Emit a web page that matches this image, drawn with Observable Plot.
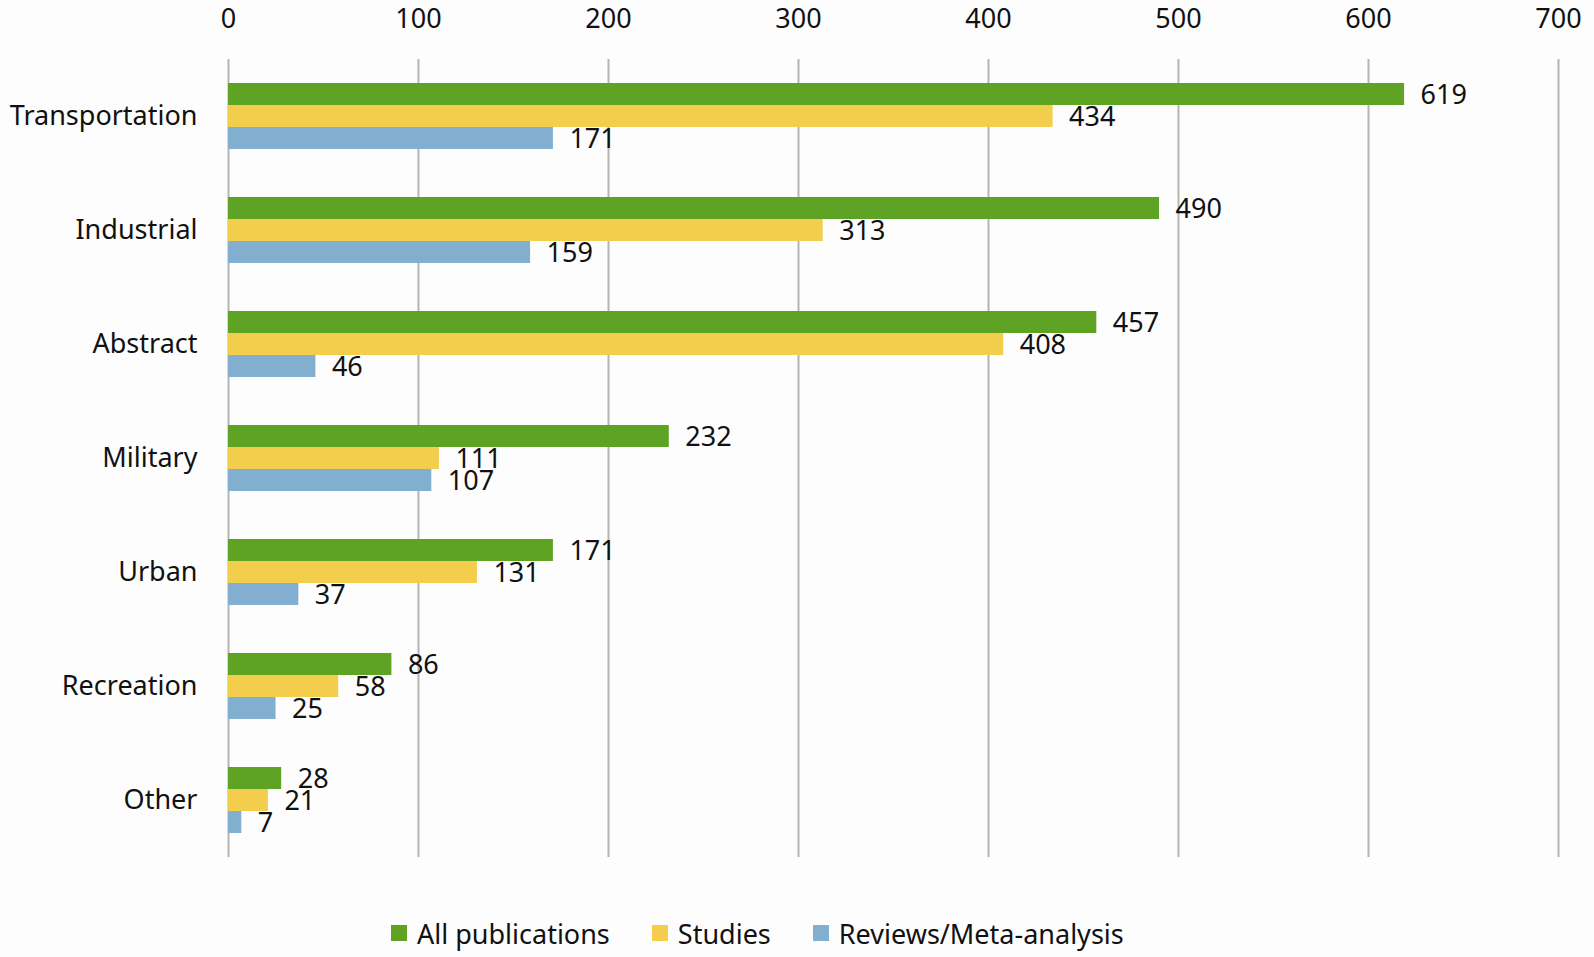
<!DOCTYPE html>
<html>
<head>
<meta charset="utf-8">
<script src="https://cdn.jsdelivr.net/npm/d3@7"></script>
<script src="https://cdn.jsdelivr.net/npm/@observablehq/plot@0.6"></script>
<style>
  html, body { margin: 0; padding: 0; background: #fdfdfd; overflow: hidden; }
  #chart svg { display: block; }
  .legend { display: flex; align-items: center; height: 50px; margin-top: 28px; margin-left: 391px;
            font-family: "Noto Sans", sans-serif; font-size: 27px; color: #111; }
  .legend .item { display: flex; align-items: center; margin-right: 42px; }
  .legend .sw { width: 16px; height: 16px; margin-right: 10px; }
</style>
</head>
<body>
<div id="chart"></div>
<script>
const categories = ["Transportation", "Industrial", "Abstract", "Military", "Urban", "Recreation", "Other"];
const series = ["All publications", "Studies", "Reviews/Meta-analysis"];
const allPublications = [619, 490, 457, 232, 171, 86, 28];
const studies = [434, 313, 408, 111, 131, 58, 21];
const reviews = [171, 159, 46, 107, 37, 25, 7];
const xTicks = [0, 100, 200, 300, 400, 500, 600, 700];
const colors = ["#5ea324", "#f3cd4c", "#82aecf"];

const valuesBySeries = [allPublications, studies, reviews];
const data = categories.flatMap((c, i) =>
  series.map((s, j) => ({category: c, series: s, value: valuesBySeries[j][i]}))
);

const chart = Plot.plot({
  width: 1594,
  height: 880,
  marginLeft: 228,
  marginRight: 36,
  marginTop: 58,
  marginBottom: 23,
  style: {fontFamily: "'Noto Sans', sans-serif", fontSize: "27px", background: "#fdfdfd", color: "#111"},
  x: {domain: [0, 700], ticks: xTicks, axis: "top", tickSize: 0, tickPadding: 32, label: null},
  fy: {domain: categories, padding: 0, label: null, axis: "left", tickSize: 0, tickPadding: 31},
  y: {domain: series, axis: null, paddingInner: 0, paddingOuter: 1},
  color: {domain: series, range: colors},
  marks: [
    Plot.gridX(xTicks, {stroke: "#b5b5b5", strokeOpacity: 1, strokeWidth: 2}),
    Plot.barX(data, {x: "value", y: "series", fy: "category", fill: "series"}),
    Plot.text(data, {x: "value", y: "series", fy: "category", text: d => String(d.value),
      textAnchor: "start", dx: 16, dy: 1, fill: "#111", fontSize: 27})
  ]
});
document.getElementById("chart").appendChild(chart);

const legend = document.createElement("div");
legend.className = "legend";
series.forEach((s, i) => {
  const item = document.createElement("div");
  item.className = "item";
  const sw = document.createElement("div");
  sw.className = "sw";
  sw.style.background = colors[i];
  const label = document.createElement("span");
  label.textContent = s;
  item.appendChild(sw);
  item.appendChild(label);
  legend.appendChild(item);
});
document.body.appendChild(legend);
</script>
</body>
</html>
